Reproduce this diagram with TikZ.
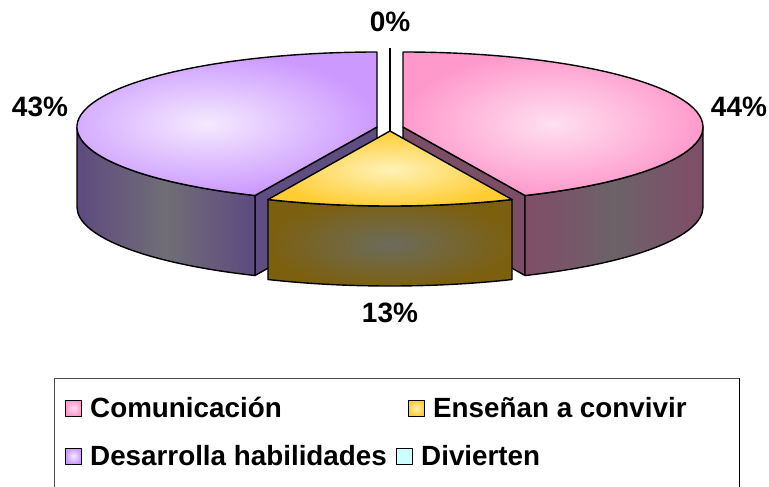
\documentclass[tikz,border=0pt]{standalone}
\usepackage{fontspec}
\setmainfont{Liberation Sans}
\usetikzlibrary{calc}
\definecolor{pkOut}{RGB}{255,153,204}
\definecolor{pkIn}{RGB}{255,224,240}
\definecolor{pkSd}{RGB}{128,77,104}
\definecolor{pkMid}{RGB}{108,98,104}
\definecolor{pkCut}{RGB}{123,78,102}
\definecolor{puOut}{RGB}{204,153,255}
\definecolor{puIn}{RGB}{244,234,255}
\definecolor{puSd}{RGB}{94,74,128}
\definecolor{puMid}{RGB}{112,110,118}
\definecolor{puCut}{RGB}{95,76,128}
\definecolor{yeOut}{RGB}{255,204,51}
\definecolor{yeIn}{RGB}{255,242,184}
\definecolor{yeSd}{RGB}{124,96,16}
\definecolor{yeMid}{RGB}{108,108,92}
\definecolor{cyKey}{RGB}{204,255,255}
\begin{document}
\begin{tikzpicture}[x=1pt,y=-1pt,line join=round,
  edge/.style={draw=black,line width=1.4pt},
  pct/.style={font=\fontsize{28}{30}\selectfont\bfseries,inner sep=0pt},
  legtext/.style={font=\fontsize{27.8}{30}\selectfont\bfseries,inner sep=0pt,anchor=base west},
  legkey/.style={draw=black,line width=1pt,minimum size=16pt,inner sep=0pt}]
\useasboundingbox (0,0) rectangle (769,487);
\fill[white] (0,0) rectangle (769,487);

% ---------- purple slice (Desarrolla habilidades)
\coordinate (uC) at (377,127);
\coordinate (uCb) at (377,207);
\coordinate (uF) at ($(uC)+(114:300 and 75)$);
\filldraw[edge,fill=puCut] (uC) -- (uF) -- ++(0,80) -- (uCb) -- cycle;
\shadedraw[edge,left color=puSd,right color=puSd,middle color=puMid]
  (uF) arc[start angle=114,end angle=180,x radius=300,y radius=75]
  -- ++(0,80) arc[start angle=180,end angle=114,x radius=300,y radius=75] -- cycle;
\shadedraw[edge,inner color=puIn,outer color=puOut]
  (uC) -- (uF) arc[start angle=114,end angle=270,x radius=300,y radius=75] -- cycle;

% ---------- pink slice (Comunicacion)
\coordinate (kC) at (403,127);
\coordinate (kCb) at (403,207);
\coordinate (kF) at ($(kC)+(66:300 and 75)$);
\coordinate (kR) at ($(kC)+(0:300 and 75)$);
\coordinate (kT) at ($(kC)+(-90:300 and 75)$);
\filldraw[edge,fill=pkCut] (kC) -- (kF) -- ++(0,80) -- (kCb) -- cycle;
\shadedraw[edge,left color=pkSd,right color=pkSd,middle color=pkMid]
  (kR) arc[start angle=0,end angle=66,x radius=300,y radius=75]
  -- ++(0,80) arc[start angle=66,end angle=0,x radius=300,y radius=75] -- cycle;
\shadedraw[edge,inner color=pkIn,outer color=pkOut]
  (kC) -- (kT) arc[start angle=-90,end angle=66,x radius=300,y radius=75] -- cycle;

% ---------- zero slice (Divierten)
\coordinate (zT) at (390,48);
\coordinate (yC) at (390,131);
\draw[edge] (zT) -- (yC);

% ---------- yellow slice (Ensenan a convivir)
\coordinate (yR) at ($(yC)+(66:300 and 75)$);
\shadedraw[edge,inner color=yeMid,outer color=yeSd]
  (yR) arc[start angle=66,end angle=114,x radius=300,y radius=75]
  -- ++(0,80) arc[start angle=114,end angle=66,x radius=300,y radius=75] -- cycle;
\shadedraw[edge,inner color=yeIn,outer color=yeOut]
  (yC) -- (yR) arc[start angle=66,end angle=114,x radius=300,y radius=75] -- cycle;

% ---------- percentage labels
\node[pct] (p0) at (390,22) {0\%};
\node[pct] (p44) at (739,107) {44\%};
\node[pct] (p43) at (40,107) {43\%};
\node[pct] (p13) at (390,313) {13\%};

% ---------- legend
\draw[line width=1pt,draw=gray!60!black] (54,495) -- (54,378) -- (739,378);
\draw[line width=1pt,draw=black] (739,378) -- (739,495);
\node[legkey,inner color=pkIn,outer color=pkOut] (k1) at (73.5,408) {};
\node[legtext] (t1) at (90,417) {Comunicación};
\node[legkey,inner color=yeIn,outer color=yeOut] (k2) at (416,408) {};
\node[legtext] (t2) at (433,417) {Enseñan a convivir};
\node[legkey,inner color=puIn,outer color=puOut] (k3) at (73.5,456) {};
\node[legtext] (t3) at (90,465) {Desarrolla habilidades};
\node[legkey,fill=cyKey] (k4) at (404,456) {};
\node[legtext] (t4) at (421,465) {Divierten};
\end{tikzpicture}
\end{document}
